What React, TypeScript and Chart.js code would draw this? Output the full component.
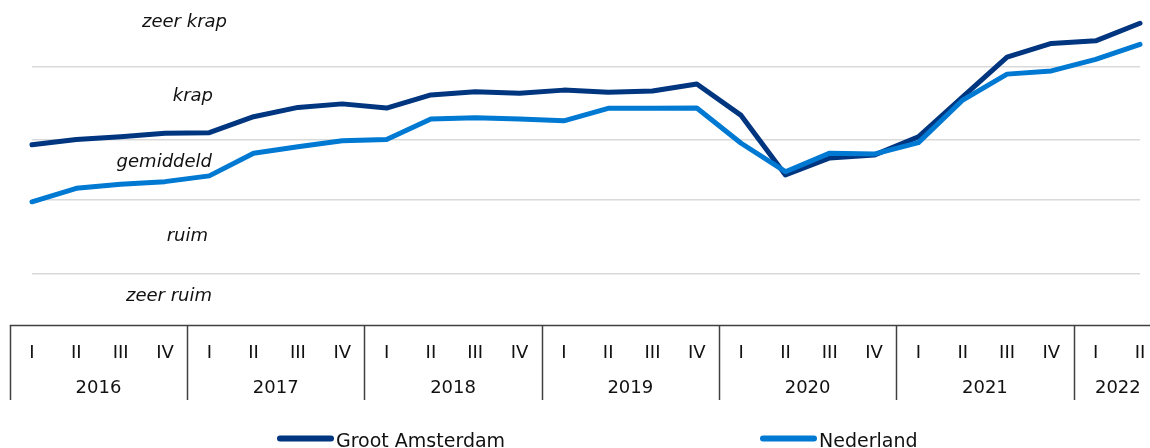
import React, { useEffect, useRef } from "react";
import { Chart, registerables } from "chart.js";

Chart.register(...registerables);

// ---- data ----
const years = ["2016", "2017", "2018", "2019", "2020", "2021", "2022"];
const quarterNames = ["I", "II", "III", "IV"];
const quartersPerYear = [4, 4, 4, 4, 4, 4, 2];

// market tension index (arbitrary scale 0-100)
const grootAmsterdam = [
  56.3, 58.0, 58.8, 59.9, 60.1, 65.1, 68.0, 69.1, 67.8, 71.9, 72.9, 72.4, 73.4,
  72.7, 73.1, 75.3, 65.5, 46.9, 52.2, 53.1, 58.8, 71.3, 83.7, 88.0, 88.8, 94.3,
];
const nederland = [
  38.5, 42.7, 44.0, 44.8, 46.6, 53.7, 55.7, 57.6, 58.0, 64.4, 64.8, 64.4, 63.8,
  67.7, 67.7, 67.8, 56.8, 47.9, 53.7, 53.4, 57.0, 70.3, 78.4, 79.4, 83.0, 87.7,
];

// category boundaries and labels
const boundaries = [15.9, 39.1, 57.8, 80.6];
const bandLabels = ["zeer krap", "krap", "gemiddeld", "ruim", "zeer ruim"];
const bandLabelValues = [94.7, 71.6, 50.9, 27.8, 9.1];

const seriesNames = ["Groot Amsterdam", "Nederland"];

// ---- styles ----
const DARK = "#00357f";
const LIGHT = "#0079d3";
const FONT = "'DejaVu Sans', Verdana, sans-serif";
const bandLabelRight = [227, 213, 212, 208, 212];
const legendStarts = [277, 760];

const categories: string[] = [];
const quarterOfCat: string[] = [];
years.forEach((y, yi) => {
  for (let q = 0; q < quartersPerYear[yi]; q++) {
    categories.push(`${y} ${quarterNames[q]}`);
    quarterOfCat.push(quarterNames[q]);
  }
});

const tablePlugin = {
  id: "tablePlugin",
  afterDraw(chart: any) {
    const ctx = chart.ctx;
    const xs = chart.scales.x;
    const ys = chart.scales.y;
    const area = chart.chartArea;
    const step = xs.getPixelForValue(1) - xs.getPixelForValue(0);
    ctx.save();
    // table top line
    ctx.strokeStyle = "#404040";
    ctx.lineWidth = 1.5;
    ctx.beginPath();
    ctx.moveTo(xs.getPixelForValue(0) - step / 2, area.bottom + 0.5);
    ctx.lineTo(chart.width, area.bottom + 0.5);
    ctx.stroke();
    // year separators and labels
    let idx = 0;
    ctx.font = `18px ${FONT}`;
    ctx.fillStyle = "#111";
    ctx.textAlign = "center";
    ctx.textBaseline = "middle";
    years.forEach((y, yi) => {
      const n = quartersPerYear[yi];
      const sx = Math.round(xs.getPixelForValue(idx) - step / 2) + 0.5;
      ctx.beginPath();
      ctx.moveTo(sx, area.bottom);
      ctx.lineTo(sx, area.bottom + 75);
      ctx.stroke();
      const cx = (xs.getPixelForValue(idx) + xs.getPixelForValue(idx + n - 1)) / 2;
      ctx.fillText(y, cx, area.bottom + 63);
      idx += n;
    });
    // band labels
    ctx.font = `italic 18px ${FONT}`;
    ctx.textAlign = "right";
    bandLabels.forEach((t, i) => {
      ctx.fillText(t, bandLabelRight[i], ys.getPixelForValue(bandLabelValues[i]));
    });
    // legend
    const colors = [DARK, LIGHT];
    ctx.font = `19px ${FONT}`;
    ctx.textAlign = "left";
    ctx.textBaseline = "alphabetic";
    seriesNames.forEach((name, i) => {
      const x0 = legendStarts[i];
      const yy = 438.5;
      ctx.strokeStyle = colors[i];
      ctx.lineWidth = 6;
      ctx.lineCap = "round";
      ctx.beginPath();
      ctx.moveTo(x0 + 3, yy);
      ctx.lineTo(x0 + 54, yy);
      ctx.stroke();
      ctx.fillStyle = "#111";
      ctx.fillText(name, x0 + 59, 446.5);
    });
    ctx.restore();
  },
};

export default function App() {
  const ref = useRef<HTMLCanvasElement>(null);
  useEffect(() => {
    if (!ref.current) return;
    const chart = new Chart(ref.current, {
      type: "line",
      data: {
        labels: categories,
        datasets: [
          {
            label: seriesNames[0],
            data: grootAmsterdam,
            borderColor: DARK,
            backgroundColor: DARK,
            borderWidth: 5,
            pointRadius: 0,
            tension: 0,
            borderCapStyle: "round",
            borderJoinStyle: "round",
            clip: false,
            order: 1,
          },
          {
            label: seriesNames[1],
            data: nederland,
            borderColor: LIGHT,
            backgroundColor: LIGHT,
            borderWidth: 5,
            pointRadius: 0,
            tension: 0,
            borderCapStyle: "round",
            borderJoinStyle: "round",
            clip: false,
            order: 0,
          },
        ],
      },
      options: {
        responsive: false,
        animation: false,
        devicePixelRatio: 1,
        layout: { padding: { left: 32, right: 10, top: 5, bottom: 0 } },
        plugins: { legend: { display: false }, tooltip: { enabled: false } },
        scales: {
          x: {
            type: "category",
            offset: false,
            grid: { display: false, drawTicks: false },
            border: { display: false },
            ticks: {
              autoSkip: false,
              maxRotation: 0,
              padding: 18,
              color: "#111",
              font: { family: FONT, size: 18 },
              callback: (_v: any, i: number) => quarterOfCat[i],
            },
            afterFit: (s: any) => {
              s.height = 123;
              s.paddingLeft = 0;
              s.paddingRight = 0;
            },
          },
          y: {
            min: 0,
            max: 100,
            grid: { color: "#d9d9d9", lineWidth: 1.5, drawTicks: false },
            border: { display: false },
            ticks: { display: false },
            afterBuildTicks: (s: any) => {
              s.ticks = boundaries.map((v) => ({ value: v }));
            },
            afterFit: (s: any) => {
              s.width = 0;
            },
          },
        },
      },
      plugins: [tablePlugin],
    });
    return () => chart.destroy();
  }, []);
  return (
    <div style={{ position: "absolute", left: 0, top: 0, width: 1150, height: 448, background: "#fff" }}>
      <canvas ref={ref} width={1150} height={448} />
    </div>
  );
}
